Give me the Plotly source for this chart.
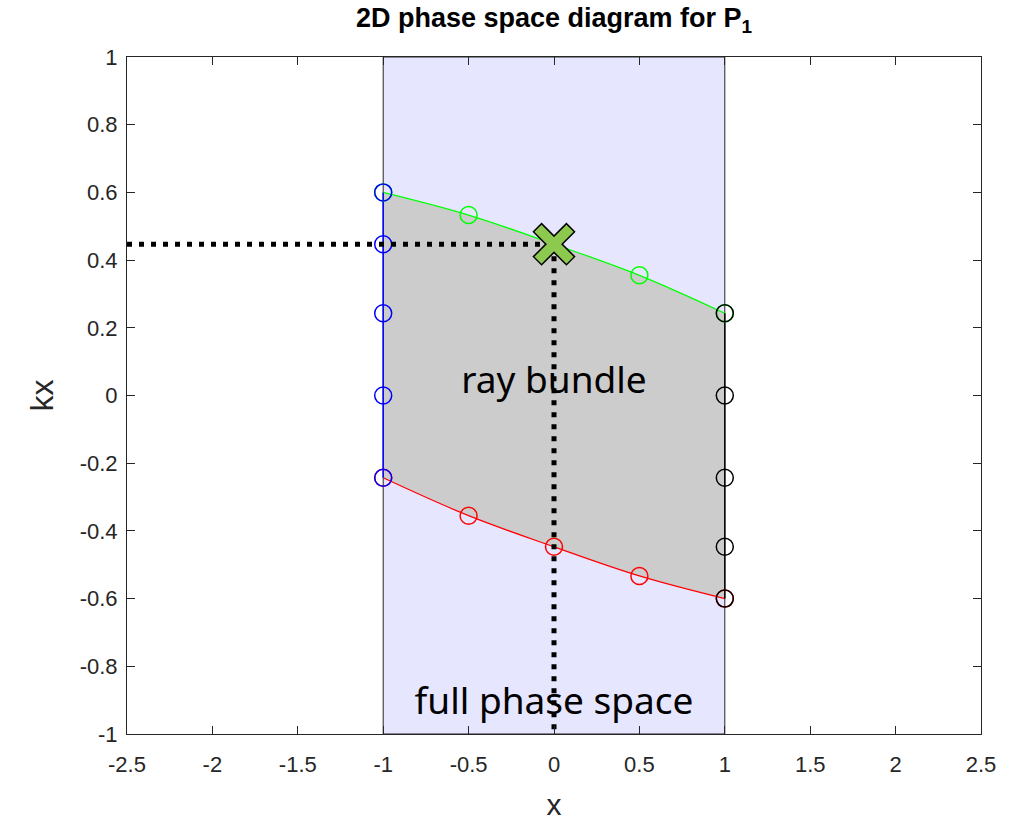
import plotly.graph_objects as go

# Data
x_pts = [-1.0, -0.5, 0.0, 0.5, 1.0]
top_kx = [0.60, 0.533, 0.447, 0.355, 0.243]
bottom_kx = [-0.243, -0.355, -0.447, -0.533, -0.60]
left_x = [-1, -1, -1, -1, -1]
left_kx = [0.60, 0.447, 0.243, 0.0, -0.243]
right_x = [1, 1, 1, 1, 1]
right_kx = [0.243, 0.0, -0.243, -0.447, -0.60]
phase_x = [-1, 1, 1, -1, -1]
phase_kx = [-1, -1, 1, 1, -1]
sel_x = 0.0
sel_kx = 0.447
xlim = [-2.5, 2.5]
ylim = [-1, 1]
xticks = [-2.5, -2, -1.5, -1, -0.5, 0, 0.5, 1, 1.5, 2, 2.5]
yticks = [-1, -0.8, -0.6, -0.4, -0.2, 0, 0.2, 0.4, 0.6, 0.8, 1]
labels = ["ray bundle", "full phase space"]
label_x = [0, 0]
label_kx = [0.035, -0.915]

fig = go.Figure()

# full phase space rectangle
fig.add_trace(go.Scatter(x=phase_x, y=phase_kx, mode="lines", fill="toself",
                         fillcolor="#e6e6ff", line=dict(color="#262626", width=1),
                         hoverinfo="skip"))
# ray bundle polygon
poly_x = x_pts + x_pts[::-1] + [x_pts[0]]
poly_y = top_kx + bottom_kx[::-1] + [top_kx[0]]
fig.add_trace(go.Scatter(x=poly_x, y=poly_y, mode="lines", fill="toself",
                         fillcolor="#cccccc", line=dict(width=0), hoverinfo="skip"))
# boundary curves
fig.add_trace(go.Scatter(x=x_pts, y=top_kx, mode="lines", line=dict(color="#00ff00", width=1.3, shape="spline")))
fig.add_trace(go.Scatter(x=x_pts, y=bottom_kx, mode="lines", line=dict(color="#ff0000", width=1.3, shape="spline")))
fig.add_trace(go.Scatter(x=left_x, y=left_kx, mode="lines", line=dict(color="#0000ff", width=1.5)))
fig.add_trace(go.Scatter(x=right_x, y=right_kx, mode="lines", line=dict(color="#000000", width=1.5)))

# texts (as traces so the dotted lines sit above them)
fig.add_trace(go.Scatter(x=label_x, y=label_kx, mode="text", text=labels,
                         textfont=dict(family="Noto Sans", size=37, color="#000000"),
                         textposition="middle center"))

# circle markers
circ = dict(symbol="circle-open", size=17, line=dict(width=1.5))
fig.add_trace(go.Scatter(x=x_pts, y=top_kx, mode="markers",
                         marker=dict(color="#00ff00", **circ)))
fig.add_trace(go.Scatter(x=x_pts, y=bottom_kx, mode="markers",
                         marker=dict(color="#ff0000", **circ)))
fig.add_trace(go.Scatter(x=left_x, y=left_kx, mode="markers",
                         marker=dict(color="#0000ff", **circ)))
fig.add_trace(go.Scatter(x=right_x, y=right_kx, mode="markers",
                         marker=dict(color="#000000", **circ)))

# dotted guide lines
dot = dict(color="#000000", width=5, dash="5px,7px")
fig.add_trace(go.Scatter(x=[xlim[0], sel_x], y=[sel_kx, sel_kx], mode="lines", line=dot))
fig.add_trace(go.Scatter(x=[sel_x, sel_x], y=[sel_kx, ylim[0]], mode="lines", line=dot))

# selected point
fig.add_trace(go.Scatter(x=[sel_x], y=[sel_kx], mode="markers",
                         marker=dict(symbol="triangle-sw", size=18, color="#000000")))
fig.add_trace(go.Scatter(x=[sel_x], y=[sel_kx], mode="markers",
                         marker=dict(symbol="x-thin", size=34, color="#000000",
                                     line=dict(color="#000000", width=13))))
fig.add_trace(go.Scatter(x=[sel_x], y=[sel_kx], mode="markers",
                         marker=dict(symbol="x-thin", size=32, color="#8dc94f",
                                     line=dict(color="#8dc94f", width=10))))

font_main = "Liberation Sans, Arial"
axis_common = dict(showgrid=False, zeroline=False, showline=True, linecolor="#262626",
                   linewidth=1, mirror="ticks", ticks="inside", ticklen=8,
                   tickcolor="#262626", automargin=False,
                   tickfont=dict(family=font_main, size=22, color="#262626"))
fig.update_xaxes(range=xlim, tickvals=xticks, ticktext=[f"{v:g}" for v in xticks],
                 ticklabelstandoff=11,
                 title=dict(text="x", font=dict(family=font_main, size=30, color="#262626"), standoff=17),
                 **axis_common)
fig.update_yaxes(range=ylim, tickvals=yticks, ticktext=[f"{v:g}" for v in yticks],
                 ticklabelstandoff=4,
                 title=dict(text="kx", font=dict(family=font_main, size=32, color="#262626"), standoff=16),
                 **axis_common)

fig.update_layout(
    width=1030, height=822,
    margin=dict(l=127, r=49, t=57, b=88),
    plot_bgcolor="#ffffff", paper_bgcolor="#ffffff",
    showlegend=False,
    title=dict(text="<b>2D phase space diagram for P<sub>1</sub></b>", x=(127 + 981) / 2 / 1030,
               xanchor="center", y=0.99, yanchor="top",
               font=dict(family=font_main, size=27, color="#000000")),
)

fig.write_html("out.html")
